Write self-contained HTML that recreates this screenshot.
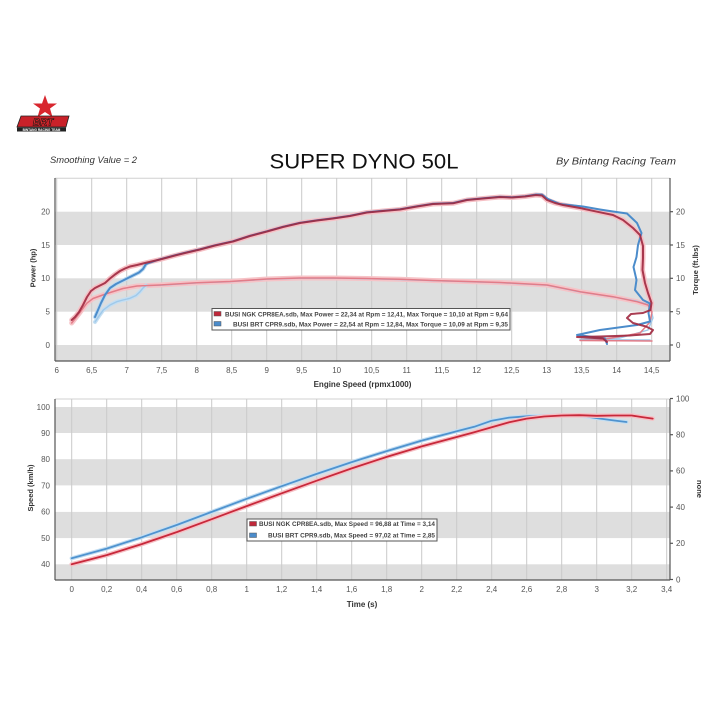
<!DOCTYPE html>
<html><head><meta charset="utf-8"><style>
html,body{margin:0;padding:0;background:#fff;}
svg{display:block;}
text{font-family:"Liberation Sans",Arial,sans-serif;}
</style></head><body>
<svg width="726" height="726" viewBox="0 0 726 726" xmlns="http://www.w3.org/2000/svg">
<rect width="726" height="726" fill="#fff"/>

<!-- Logo -->
<g>
<polygon points="45,95 48,103.5 57,103.5 50,108.5 52.5,117 45,112 37.5,117 40,108.5 33,103.5 42,103.5" fill="#d8262e"/>
<polygon points="21,116 69,116 66,127 17,127" fill="#c92129" stroke="#222" stroke-width="0.8"/>
<text x="43" y="125.5" font-size="10" font-weight="bold" font-style="italic" fill="#e33" stroke="#111" stroke-width="0.6" text-anchor="middle">BRT</text>
<rect x="17" y="127.5" width="49" height="4" fill="#222"/>
<text x="41.5" y="130.8" font-size="3.2" font-weight="bold" fill="#fff" text-anchor="middle">BINTANG RACING TEAM</text>
</g>

<!-- Header -->
<text x="50" y="163" font-size="9" font-style="italic" fill="#333" textLength="87" lengthAdjust="spacingAndGlyphs">Smoothing Value = 2</text>
<text x="269.5" y="168.5" font-size="21.5" fill="#111" textLength="189" lengthAdjust="spacingAndGlyphs">SUPER DYNO 50L</text>
<text x="556" y="164.5" font-size="10" font-style="italic" fill="#333" textLength="120" lengthAdjust="spacingAndGlyphs">By Bintang Racing Team</text>

<!-- ===== TOP CHART ===== -->
<g>
<rect x="55" y="211.7" width="615" height="33.3" fill="#dedede"/>
<rect x="55" y="278.3" width="615" height="33.4" fill="#dedede"/>
<rect x="55" y="345" width="615" height="16" fill="#dedede"/>
<line x1="55" y1="178.3" x2="670" y2="178.3" stroke="#d0d0d0" stroke-width="1"/>
<g stroke="#cacaca" stroke-width="1">
<line x1="56.7" y1="178" x2="56.7" y2="361"/><line x1="91.7" y1="178" x2="91.7" y2="361"/>
<line x1="126.7" y1="178" x2="126.7" y2="361"/><line x1="161.7" y1="178" x2="161.7" y2="361"/>
<line x1="196.7" y1="178" x2="196.7" y2="361"/><line x1="231.7" y1="178" x2="231.7" y2="361"/>
<line x1="266.7" y1="178" x2="266.7" y2="361"/><line x1="301.7" y1="178" x2="301.7" y2="361"/>
<line x1="336.7" y1="178" x2="336.7" y2="361"/><line x1="371.7" y1="178" x2="371.7" y2="361"/>
<line x1="406.7" y1="178" x2="406.7" y2="361"/><line x1="441.7" y1="178" x2="441.7" y2="361"/>
<line x1="476.7" y1="178" x2="476.7" y2="361"/><line x1="511.7" y1="178" x2="511.7" y2="361"/>
<line x1="546.7" y1="178" x2="546.7" y2="361"/><line x1="581.7" y1="178" x2="581.7" y2="361"/>
<line x1="616.7" y1="178" x2="616.7" y2="361"/><line x1="651.7" y1="178" x2="651.7" y2="361"/>
</g>

<!-- halos -->
<g fill="none" stroke-linejoin="round" stroke-linecap="round">
<polyline stroke="#f6c3c7" stroke-width="5" points="71.7,323 78,315 86.7,303.3 93,298.5 100,296 107,293.5 115,291 123,288.5 137,286 160,285 197,282.7 230,281.5 267,279 300,278 333,278 367,278.5 400,279.3 433,280.5 467,281.5 500,282.5 547,285 580,291.7 613,296.7 637,301.7 648,305"/>
<polyline stroke="#c4def2" stroke-width="4" points="95,322 99,316 103.3,310 110,305 116.7,301.7 123,300 130,298.3 136,295.5 140,291.7 143,288 146,285.5"/>
<polyline stroke="#f6c0c5" stroke-width="5" points="71.7,320 75,317 79,312 83,305 87,297 91,291 95,288 100,285.5 105,283 110,278.5 115,274.5 120,271 125,268.5 130,266.5 137,265 145,263 160,259.5 175,255.5 185,253 200,249.5 215,245.5 233,241.5 250,236 267,231.5 283,227 300,223 317,220.5 333,218.5 350,216 367,212.5 383,211 400,209.5 417,206.5 433,204 453,203.3 467,200 483,198.5 500,197 512,197.5 525,196.5 536,195 542,195.5 547,200 555,203 563,205 580,208 597,211.7 613,215 623,220 633,228 640,235 643,246 643,258 642.5,270 645,283 648,293 651.5,303 650.5,310"/>
<polyline stroke="#bcd9f0" stroke-width="4" points="95,317 98,310 101,303 105,295 110,288 116,284 122,281 128,278 134,275 139,272.5 143,269 146,264"/>
</g>

<!-- torque lines -->
<g fill="none" stroke-linejoin="round" stroke-linecap="round">
<polyline stroke="#9fc9ea" stroke-width="1.4" points="95,322 99,316 103.3,310 110,305 116.7,301.7 123,300 130,298.3 136,295.5 140,291.7 143,288 146,285.5 160,285.3 197,282.9 230,281.7 267,279.2 300,278.2 333,278.2 367,278.7 400,279.5 433,280.7 467,281.7 500,282.7 547,285.2 580,291.9 613,296.9 637,301.2 650,305 653,318 648,330 620,338 580,339.5 650,340"/>
<polyline stroke="#e27c88" stroke-width="1.5" points="71.7,323 78,315 86.7,303.3 93,298.5 100,296 107,293.5 115,291 123,288.5 137,286 160,285 197,282.7 230,281.5 267,279 300,278 333,278 367,278.5 400,279.3 433,280.5 467,281.5 500,282.5 547,285 580,291.7 613,296.7 637,301.7 648,305 652,312 650,322 640,333 600,340 580,340.5 652,341"/>
</g>

<!-- power lines -->
<g fill="none" stroke-linejoin="round" stroke-linecap="round">
<polyline stroke="#4b8ccb" stroke-width="2" points="95,317 98,310 101,303 105,295 110,288 116,284 122,281 128,278 134,275 139,272.5 143,269 146,264 160,259.2 175,255.2 185,252.7 200,249.2 215,245.2 233,241.2 250,235.7 267,231.2 283,226.7 300,222.7 317,220.2 333,218.2 350,215.7 367,212.2 383,210.7 400,209.2 417,206.2 433,203.7 453,203 467,199.7 483,198.2 500,196.7 512,197.2 525,196.2 536,194.5 542,194.5 548,199 560,204 583,206.5 600,209.5 613,211.5 627,213.5 637,223 641.5,233 638,245 636.5,257 633.5,267 636.5,280 635,290 643,300 650,303.5 648.5,313 650,321.5 637,325 600,330 577,335 605,338.5 607,344"/>
<polyline stroke="#a0283f" stroke-width="2" stroke-opacity="0.9" points="71.7,320 75,317 79,312 83,305 87,297 91,291 95,288 100,285.5 105,283 110,278.5 115,274.5 120,271 125,268.5 130,266.5 137,265 145,263 160,259.5 175,255.5 185,253 200,249.5 215,245.5 233,241.5 250,236 267,231.5 283,227 300,223 317,220.5 333,218.5 350,216 367,212.5 383,211 400,209.5 417,206.5 433,204 453,203.3 467,200 483,198.5 500,197 512,197.5 525,196.5 536,195 542,195.5 547,200 555,203 563,205 580,208 597,211.7 613,215 623,220 633,228 640,235 643,246 643,258 642.5,270 645,283 648,293 651.5,303 650.5,310 643,313 631,314 627,318 633,323 646,326.5 653,330 650,334 630,335.5 600,336.5 577,337 603,338.5 607,342"/>
</g>

<!-- axes -->
<g stroke="#555" stroke-width="1.2">
<line x1="55" y1="178" x2="55" y2="361"/>
<line x1="670" y1="178" x2="670" y2="361"/>
<line x1="55" y1="361" x2="670" y2="361"/>
<line x1="670" y1="211.7" x2="673" y2="211.7"/><line x1="670" y1="245" x2="673" y2="245"/>
<line x1="670" y1="278.3" x2="673" y2="278.3"/><line x1="670" y1="311.7" x2="673" y2="311.7"/>
<line x1="670" y1="345" x2="673" y2="345"/>
</g>

<!-- legend -->
<rect x="212" y="308.5" width="298" height="21.5" fill="#fff" stroke="#555" stroke-width="1"/>
<rect x="214" y="311.5" width="7" height="4.5" fill="#c0283a" stroke="#555" stroke-width="0.5"/>
<rect x="214" y="321.5" width="7" height="4.5" fill="#4b8ccb" stroke="#555" stroke-width="0.5"/>
<text x="225" y="316.3" font-size="6" font-weight="bold" fill="#444" textLength="283" lengthAdjust="spacingAndGlyphs">BUSI NGK CPR8EA.sdb, Max Power = 22,34 at Rpm = 12,41, Max Torque = 10,10 at Rpm = 9,64</text>
<text x="233" y="326.3" font-size="6" font-weight="bold" fill="#444" textLength="275" lengthAdjust="spacingAndGlyphs">BUSI BRT CPR9.sdb, Max Power = 22,54 at Rpm = 12,84, Max Torque = 10,09 at Rpm = 9,35</text>

<!-- tick labels -->
<g font-size="8" fill="#555" text-anchor="middle">
<text x="56.7" y="373">6</text><text x="91.7" y="373">6,5</text><text x="126.7" y="373">7</text>
<text x="161.7" y="373">7,5</text><text x="196.7" y="373">8</text><text x="231.7" y="373">8,5</text>
<text x="266.7" y="373">9</text><text x="301.7" y="373">9,5</text><text x="336.7" y="373">10</text>
<text x="371.7" y="373">10,5</text><text x="406.7" y="373">11</text><text x="441.7" y="373">11,5</text>
<text x="476.7" y="373">12</text><text x="511.7" y="373">12,5</text><text x="546.7" y="373">13</text>
<text x="581.7" y="373">13,5</text><text x="616.7" y="373">14</text><text x="651.7" y="373">14,5</text>
</g>
<g font-size="8" fill="#555" text-anchor="end">
<text x="50" y="214.5">20</text><text x="50" y="248">15</text><text x="50" y="281">10</text>
<text x="50" y="314.5">5</text><text x="50" y="348">0</text>
</g>
<g font-size="8" fill="#555">
<text x="676" y="214.5">20</text><text x="676" y="248">15</text><text x="676" y="281">10</text>
<text x="676" y="314.5">5</text><text x="676" y="348">0</text>
</g>
<text x="362.5" y="387" font-size="8" font-weight="bold" fill="#333" text-anchor="middle">Engine Speed (rpmx1000)</text>
<text transform="translate(35.5,268) rotate(-90)" font-size="7.5" font-weight="bold" fill="#333" text-anchor="middle">Power (hp)</text>
<text transform="translate(698,270) rotate(-90)" font-size="7.5" font-weight="bold" fill="#333" text-anchor="middle">Torque (ft.lbs)</text>
</g>

<!-- ===== BOTTOM CHART ===== -->
<g>
<rect x="55" y="407" width="615" height="26" fill="#dedede"/>
<rect x="55" y="459.2" width="615" height="26.2" fill="#dedede"/>
<rect x="55" y="511.9" width="615" height="26.2" fill="#dedede"/>
<rect x="55" y="564.3" width="615" height="15.7" fill="#dedede"/>
<line x1="55" y1="399" x2="670" y2="399" stroke="#d0d0d0" stroke-width="1"/>
<g stroke="#cacaca" stroke-width="1">
<line x1="71.7" y1="399" x2="71.7" y2="580"/><line x1="106.7" y1="399" x2="106.7" y2="580"/>
<line x1="141.7" y1="399" x2="141.7" y2="580"/><line x1="176.7" y1="399" x2="176.7" y2="580"/>
<line x1="211.7" y1="399" x2="211.7" y2="580"/><line x1="246.7" y1="399" x2="246.7" y2="580"/>
<line x1="281.7" y1="399" x2="281.7" y2="580"/><line x1="316.7" y1="399" x2="316.7" y2="580"/>
<line x1="351.7" y1="399" x2="351.7" y2="580"/><line x1="386.7" y1="399" x2="386.7" y2="580"/>
<line x1="421.7" y1="399" x2="421.7" y2="580"/><line x1="456.7" y1="399" x2="456.7" y2="580"/>
<line x1="491.7" y1="399" x2="491.7" y2="580"/><line x1="526.7" y1="399" x2="526.7" y2="580"/>
<line x1="561.7" y1="399" x2="561.7" y2="580"/><line x1="596.7" y1="399" x2="596.7" y2="580"/>
<line x1="631.7" y1="399" x2="631.7" y2="580"/><line x1="666.7" y1="399" x2="666.7" y2="580"/>
</g>

<g fill="none" stroke-linejoin="round" stroke-linecap="round">
<polyline stroke="#c3def2" stroke-width="4" points="71.7,558.3 106.7,548.6 141.7,537.3 176.7,525 211.7,511.9 246.7,498.8 281.7,486.2 316.7,473.9 351.7,462.1 386.7,451.1 421.7,440.6 456.7,431.2 474.2,426.8 491.7,420.7 509.2,417.6 526.7,416.3 561.7,415.2 579.2,415.5 596.7,418.1 614.2,420.5 626.5,422"/>
<polyline stroke="#4f93cf" stroke-width="1.8" points="71.7,558.3 106.7,548.6 141.7,537.3 176.7,525 211.7,511.9 246.7,498.8 281.7,486.2 316.7,473.9 351.7,462.1 386.7,451.1 421.7,440.6 456.7,431.2 474.2,426.8 491.7,420.7 509.2,417.6 526.7,416.3 561.7,415.2 579.2,415.5 596.7,418.1 614.2,420.5 626.5,422"/>
<polyline stroke="#f6c0c5" stroke-width="4.5" points="71.7,564.3 106.7,555.1 141.7,544.1 176.7,532.1 211.7,519.2 246.7,506.1 281.7,493.3 316.7,480.7 351.7,468.4 386.7,456.9 421.7,446.4 456.7,437 474.2,432.3 491.7,427.3 509.2,422.3 526.7,418.6 544.2,416.5 561.7,415.5 579.2,415.2 596.7,415.8 614.2,415.5 631.7,415.5 642.2,417.1 652.7,418.6"/>
<polyline stroke="#c8283a" stroke-width="1.8" points="71.7,564.3 106.7,555.1 141.7,544.1 176.7,532.1 211.7,519.2 246.7,506.1 281.7,493.3 316.7,480.7 351.7,468.4 386.7,456.9 421.7,446.4 456.7,437 474.2,432.3 491.7,427.3 509.2,422.3 526.7,418.6 544.2,416.5 561.7,415.5 579.2,415.2 596.7,415.8 614.2,415.5 631.7,415.5 642.2,417.1 652.7,418.6"/>
</g>

<g stroke="#555" stroke-width="1.2">
<line x1="55" y1="399" x2="55" y2="580"/>
<line x1="670" y1="399" x2="670" y2="580"/>
<line x1="55" y1="580" x2="670" y2="580"/>
<line x1="670" y1="398.5" x2="673" y2="398.5"/><line x1="670" y1="434.7" x2="673" y2="434.7"/>
<line x1="670" y1="470.9" x2="673" y2="470.9"/><line x1="670" y1="507.1" x2="673" y2="507.1"/>
<line x1="670" y1="543.3" x2="673" y2="543.3"/><line x1="670" y1="579.5" x2="673" y2="579.5"/>
</g>

<rect x="247" y="519" width="190" height="22" fill="#fff" stroke="#555" stroke-width="1"/>
<rect x="249.5" y="521.5" width="7" height="4.5" fill="#c0283a" stroke="#555" stroke-width="0.5"/>
<rect x="249.5" y="533" width="7" height="4.5" fill="#4b8ccb" stroke="#555" stroke-width="0.5"/>
<text x="259" y="526" font-size="6" font-weight="bold" fill="#444" textLength="176" lengthAdjust="spacingAndGlyphs">BUSI NGK CPR8EA.sdb, Max Speed = 96,88 at Time = 3,14</text>
<text x="268" y="537.5" font-size="6" font-weight="bold" fill="#444" textLength="167" lengthAdjust="spacingAndGlyphs">BUSI BRT CPR9.sdb, Max Speed = 97,02 at Time = 2,85</text>

<g font-size="8" fill="#555" text-anchor="middle">
<text x="71.7" y="592">0</text><text x="106.7" y="592">0,2</text><text x="141.7" y="592">0,4</text>
<text x="176.7" y="592">0,6</text><text x="211.7" y="592">0,8</text><text x="246.7" y="592">1</text>
<text x="281.7" y="592">1,2</text><text x="316.7" y="592">1,4</text><text x="351.7" y="592">1,6</text>
<text x="386.7" y="592">1,8</text><text x="421.7" y="592">2</text><text x="456.7" y="592">2,2</text>
<text x="491.7" y="592">2,4</text><text x="526.7" y="592">2,6</text><text x="561.7" y="592">2,8</text>
<text x="596.7" y="592">3</text><text x="631.7" y="592">3,2</text><text x="666.7" y="592">3,4</text>
</g>
<g font-size="8" fill="#555" text-anchor="end">
<text x="50" y="409.8">100</text><text x="50" y="436">90</text><text x="50" y="462.2">80</text>
<text x="50" y="488.4">70</text><text x="50" y="514.6">60</text><text x="50" y="540.8">50</text>
<text x="50" y="567">40</text>
</g>
<g font-size="8" fill="#555">
<text x="676" y="401.3">100</text><text x="676" y="437.5">80</text><text x="676" y="473.7">60</text>
<text x="676" y="509.9">40</text><text x="676" y="546.1">20</text><text x="676" y="582.3">0</text>
</g>
<text x="362" y="607" font-size="8" font-weight="bold" fill="#333" text-anchor="middle">Time (s)</text>
<text transform="translate(33,488) rotate(-90)" font-size="7.5" font-weight="bold" fill="#333" text-anchor="middle">Speed (km/h)</text>
<text transform="translate(697,489) rotate(90)" font-size="7.5" font-weight="bold" fill="#333" text-anchor="middle">none</text>
</g>
</svg>
</body></html>
